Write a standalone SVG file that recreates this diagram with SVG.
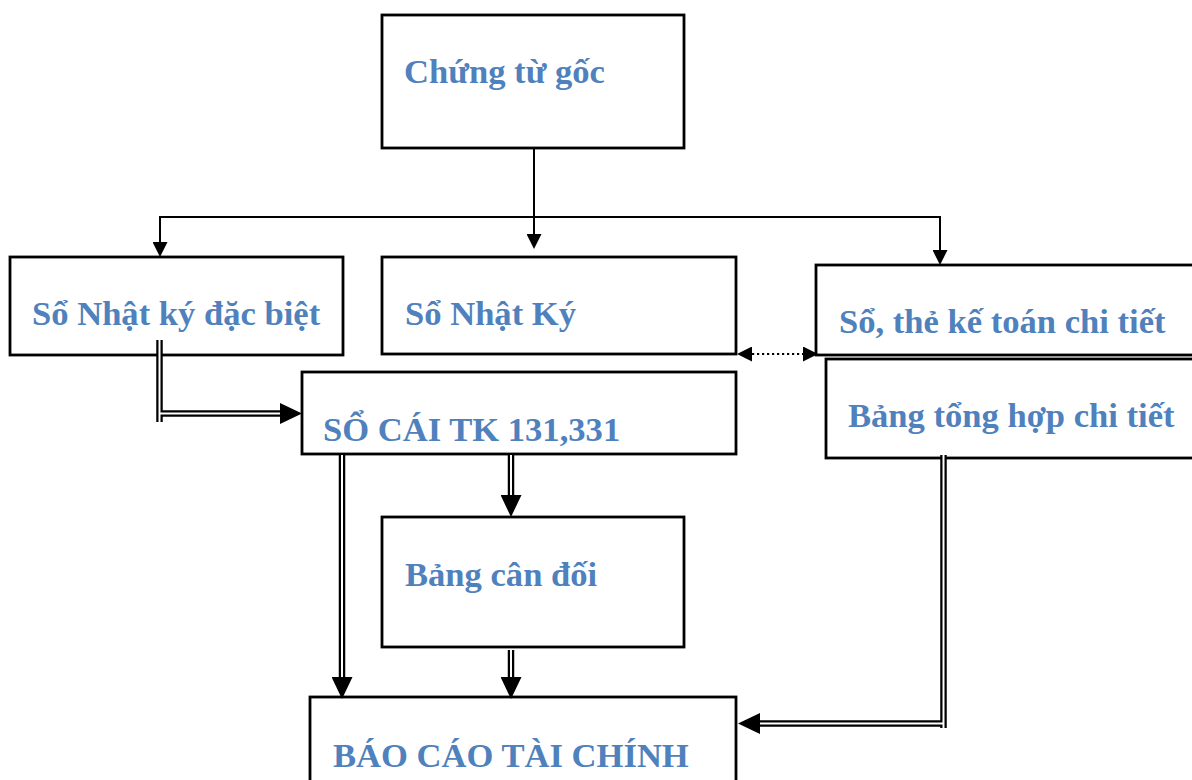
<svg xmlns="http://www.w3.org/2000/svg" width="1192" height="780" viewBox="0 0 1192 780">
<style>
.box{fill:#fff;stroke:#000;stroke-width:2.8}
.t{font-family:"Liberation Serif","Times New Roman",serif;font-weight:bold;font-size:34.6px;fill:#4F81BD}
.ln{fill:none;stroke:#000;stroke-width:2}
.dbl{fill:none;stroke:#000;stroke-width:6.5}
.dblw{fill:none;stroke:#fff;stroke-width:2}
.dot{fill:none;stroke:#000;stroke-width:2.2;stroke-dasharray:2.2 2.8}
</style>
<defs>
<marker id="a" markerUnits="userSpaceOnUse" markerWidth="15" markerHeight="15" refX="0" refY="7.5" orient="auto-start-reverse" viewBox="0 0 15 15"><path d="M0,0 L15,7.5 L0,15 z" fill="#000"/></marker>
<marker id="b" markerUnits="userSpaceOnUse" markerWidth="22" markerHeight="21" refX="0" refY="10.5" orient="auto" viewBox="0 0 22 21"><path d="M0,0 L22,10.5 L0,21 z" fill="#000"/></marker>
</defs>
<g id="n-chungtu"><rect class="box" x="382" y="15" width="302" height="133"/><text class="t" x="404" y="83">Chứng từ gốc</text></g>
<g id="n-nkdb"><rect class="box" x="10" y="257" width="333" height="98"/><text class="t" x="32" y="325">Sổ Nhật ký đặc biệt</text></g>
<g id="n-nk"><rect class="box" x="382" y="257" width="354" height="97"/><text class="t" x="405" y="325">Sổ Nhật Ký</text></g>
<g id="n-sothe"><rect class="box" x="816" y="265" width="390" height="90"/><text class="t" x="839" y="333">Sổ, thẻ kế toán chi tiết</text></g>
<g id="n-bth"><rect class="box" x="826" y="359" width="380" height="99"/><text class="t" x="848" y="427">Bảng tổng hợp chi tiết</text></g>
<g id="n-socai"><rect class="box" x="302" y="372" width="434" height="82"/><text class="t" x="323" y="441">SỔ CÁI TK 131,331</text></g>
<g id="n-bcd"><rect class="box" x="382" y="517" width="302" height="130"/><text class="t" x="405" y="586">Bảng cân đối</text></g>
<g id="n-bctc"><rect class="box" x="310" y="697" width="426" height="100"/><text class="t" x="333" y="767">BÁO CÁO TÀI CHÍNH</text></g>
<g id="connectors">
<path class="ln" d="M534,149 V234" marker-end="url(#a)"/>
<path class="ln" d="M160,242 V217 H940 V250" marker-start="url(#a)" marker-end="url(#a)"/>
<path class="dot" d="M752,354 H803" marker-start="url(#a)" marker-end="url(#a)"/>
<path class="dbl" d="M159.5,340 V422"/><path class="dblw" d="M159.5,340 V422"/>
<path class="dbl" d="M161,413.5 H280" marker-end="url(#b)"/><path class="dblw" d="M160,413.5 H280"/>
<path class="dbl" d="M342,455 V677" marker-end="url(#b)"/><path class="dblw" d="M342,455 V677"/>
<path class="dbl" d="M511,455 V495" marker-end="url(#b)"/><path class="dblw" d="M511,455 V495"/>
<path class="dbl" d="M511,650 V677" marker-end="url(#b)"/><path class="dblw" d="M511,650 V677"/>
<path class="dbl" d="M943.5,455 V728"/><path class="dblw" d="M943.5,455 V728"/>
<path class="dbl" d="M942,723.5 H760" marker-end="url(#b)"/><path class="dblw" d="M943.5,723.5 H760"/>
</g>
</svg>
